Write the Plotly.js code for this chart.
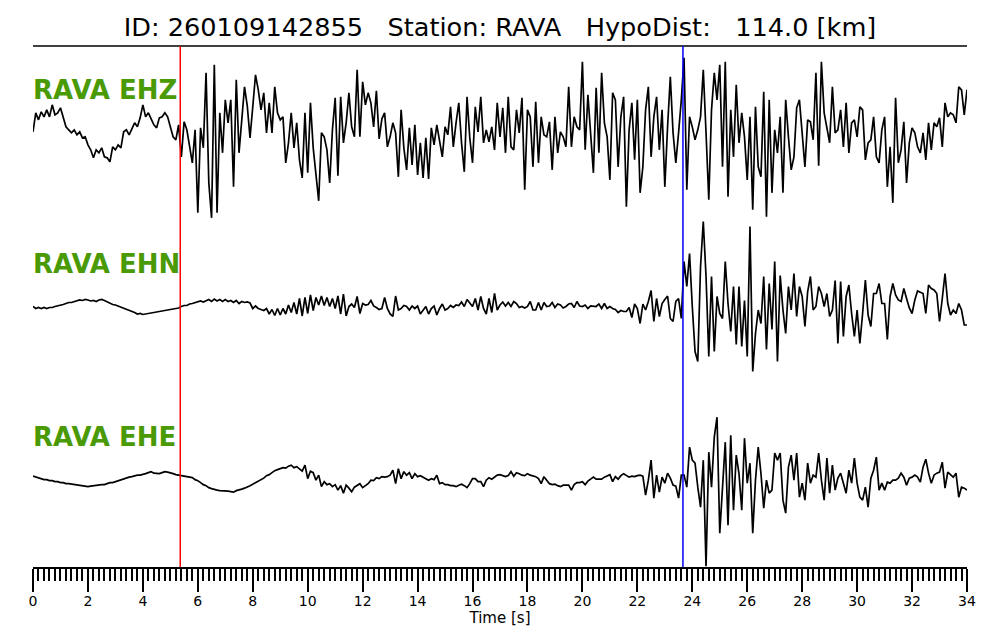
<!DOCTYPE html>
<html>
<head>
<meta charset="utf-8">
<script src="https://cdn.plot.ly/plotly-3.0.1.min.js"></script>
<style>html,body{margin:0;padding:0;background:#fff;}</style>
</head>
<body>
<div id="chart" style="width:1000px;height:640px;"></div>
<script>
// ---- data ----
const eventId = "260109142855";
const station = "RAVA";
const hypoDistKm = 114.0;
const channels = ["EHZ", "EHN", "EHE"];
const startTime = 0;          // s
const sampleInterval = 0.1;   // s
const pickTimes = [5.36, 23.66];
const pickColors = ["#ff0000", "#0000ff"];
const tickLabels = ["0","2","4","6","8","10","12","14","16","18","20","22","24","26","28","30","32","34"];

const ehz = [
1,20,13,21,16,23,16,28,18,20,
25,16,6,3,0,3,-2,1,-5,-4,
-12,-17,-25,-17,-20,-15,-24,-25,-29,-14,
-17,-12,-15,1,3,-2,5,10,6,15,
28,16,20,13,8,5,15,16,20,16,
5,-4,-7,8,-24,11,3,-14,-30,3,
-80,5,-15,60,-50,-85,68,-80,20,-20,
33,10,33,-54,53,-20,18,46,27,-5,
26,58,43,23,40,0,30,0,46,20,
13,16,-30,-10,20,-15,10,-27,-45,20,
-40,30,-15,-40,-68,0,-4,-17,-50,3,
35,-43,36,-10,10,40,6,-4,63,-4,
51,28,40,30,6,42,-6,14,20,-14,
-4,10,0,-44,23,-15,-37,5,-32,8,
-42,-10,-45,-5,-46,5,-12,8,-8,-24,
6,-2,26,-14,10,30,-10,-39,36,-5,
-30,26,1,36,-10,3,-9,6,-17,30,
-4,25,-20,36,-14,-17,23,0,35,-57,
23,16,-34,31,-30,16,-2,-4,11,-37,
16,-20,1,-4,-14,46,-14,16,6,3,
71,-17,38,-7,-40,45,-20,60,10,-4,
-47,40,33,-34,16,36,-74,3,30,-27,
33,-60,-34,23,46,-24,16,36,-17,23,
-54,6,56,0,-30,0,33,75,-57,16,
6,-7,3,16,63,0,-67,23,60,33,
68,-34,71,-64,23,-24,48,-10,20,-4,
-47,16,-77,26,-34,-44,41,-84,33,-60,
3,-20,16,-60,33,-4,-37,-24,25,33,
3,-34,13,11,-7,60,-33,71,20,6,
-10,46,0,3,23,-14,30,-20,10,13,
-4,26,23,-27,-10,-7,16,-24,-30,3,
16,-54,-14,-70,35,-30,-17,11,-50,-10,
5,0,-14,-20,0,-27,10,-17,10,6,
15,-14,30,16,20,18,10,46,43,18,
43
];

const ehn = [
0,-2,-1,-2,-1,-2,-1,-1,0,0.5,
1,2,3,4,4,5,6,6.5,6,7,
6.5,5.5,6,5,6.5,7,6,4.5,3,2,
1.5,0.5,-1,-1.5,-3,-4,-5,-6,-7.5,-7,
-8,-7.5,-7,-6.5,-6,-5.5,-5,-4.5,-4,-3.5,
-3,-2.5,-2,-1.5,0,1,1,2.5,3,4,
4.5,5.5,4.5,6,7,5,7.5,5.5,7,5,
7,5,6,4,6,3,5,4,4.5,3.5,
-2,0.5,-2,-3,-4,-2,-7.5,-3,-9,-2,
-8.5,-2,-7.5,1.5,-6,4,-7.5,8,-9.5,9,
-7,11.5,-4,9,1.5,10.5,1,9,0,8,
-2,10.5,-7.5,12.5,-9.5,0,2.5,-1,10,-7,
3,1.5,2,6,0.5,-1,-3,-2,9,-2,
-7.5,-10,10.5,-3.5,-2,1,0,-3.5,0.5,-2,
0.5,-7.5,-4,0,-7.5,-2,0.5,-8.5,-2,2.5,
-3.5,-2,1,-1,1.5,1,4.5,0,7,3,
0,8,-3.5,10,-2,-7.5,8,-6,13,-3.5,
1.5,4.5,0.5,4,0,5,3,-1,0,-1.5,
0,5,-3.5,-3.5,4,-3.5,4,0,0.5,4,
-1,2.5,1.5,-1.5,0,2.5,3,-1,5,0.5,
0,1.5,-2,0.5,0,0,2.5,-2,3,-2,
0,-2,-3,-6,-4,-5,-5,-1,-11,2.5,
-2,-17,2.5,-3.5,5,16,-15,8,-10,3,
7,10.5,-12,-15,5,8,-12,45,20,53,
0,-45,-55,40,85,30,-50,30,-45,10,
-7,-12,45,3,-25,20,-38,20,-40,6,
-50,80,-65,-27,-3.5,-17,30,-43,23,-23,
45,-55,31,-3.5,-27,20,-3.5,33,-10,20,
10,-20,15,30,-3.5,0,20,13,0,13,
-10,-3.5,26,-37,25,-30,10,21.5,-7,-30,
-3.5,-37,-7,26.5,-8.5,-20,13,13,23,3,
3,-33,10,23,11.5,6.5,5,18,8,-1.5,
-7,6.5,15.5,14,13,-7,21.5,18,16.5,13,
-15,8,33,3,-8.5,-3.5,-7,3,-3.5,-18.5,
-18.5
];

const ehe = [
4,3,2,1.5,0.5,0.5,-0.5,-0.5,-1.5,-1.5,
-2.5,-2.5,-3.5,-3.5,-4,-4.5,-5,-5.5,-5.5,-6.5,
-6.5,-6,-5.5,-5.5,-5,-4.5,-4.5,-3.5,-2.5,-2.5,
-1.5,-0.5,0.5,1.5,2.5,3,3.5,4.5,5,5,
5.5,6.5,7.5,8.5,7,6.5,6.5,7.5,8.5,8,
7.5,6.5,5.5,5,5,4.5,3.5,3.5,2.5,0.5,
-0.5,-2.5,-4.5,-5.5,-7.5,-8.5,-9.5,-10,-10.5,-10.5,
-11,-11,-11.5,-12,-10.5,-10,-9,-8,-7,-5.5,
-4,-2.5,-0.5,0.5,2,4.5,5.5,7.5,9.5,10.5,
11.5,12.5,12,14,15,12.5,13.5,11,9,15,
1.5,9,7.5,0,5,-6.5,-1.5,-4.5,-3.5,-6.5,
-4.5,-10,-5.5,-13,-5,-8,-11.5,-7,-5.5,-3.5,
-7.5,-5.5,-3.5,0,-0.5,2.5,1.5,3.5,3,3.5,
5,10,-3.5,11.5,1.5,8.5,5,7.5,1.5,6.5,
3.5,4.5,3,1.5,0,1.5,0.5,5,-3.5,-2.5,
-4.5,-4.5,-5.5,-5.5,-6.5,-5,-4,-5.5,-7.5,-3.5,
1.5,1.5,-1.5,-1.5,-6.5,0,2.5,1,3.5,5,
5.5,4.5,3.5,4.5,8.5,4,7.5,6.5,5,4.5,
6.5,5,4.5,3.5,1.5,-3.5,3.5,0,-3.5,-4.5,
-4,-5.5,-6.5,-5,-5,-5,-10,-4.5,-2.5,-2.5,
-1.5,-4.5,-1,1,3,1,1,1,3,4.5,
5.5,-1.5,3.5,1,4.5,6.5,4.5,3,4,3.5,
4.5,5,4,-15,0,20,-18,5,-12,3,
-3,7,2,-5,-6,-18,5,5,-7,33,
20,17,-7,-27,20,-86,28,-7,43,63,
-53,-3,38,-45,45,-30,25,6.5,-30,42,
-3,17,-53,0,33,6.5,-28,0,-13,-10,
27,20,27,-20,-33,13,25,0,27,-17,
-3,-20,17,-3,5,3,27,0,-20,22,
-13,15,-10,2,7,-3,-13,10,-3,22,
-3,-17,-20,-7,-27,2,10,23,-10,-3,
-10,-2,-3,0,0,2,7,3,-5,2,
3,5,3,-2,13,21,7,-3,5,7,
8,18,-8,8,5,3,7,-17,-7,-8,
-10
];

// ---- build chart ----
const seriesList = [ehz, ehn, ehe];
const yAxisIds = ["y", "y2", "y3"];
const NB = "\u00a0";
const gap = NB + NB + NB;

const traces = seriesList.map((vals, k) => ({
  type: "scatter",
  mode: "lines",
  x: vals.map((_, i) => +(startTime + i * sampleInterval).toFixed(3)),
  y: vals,
  xaxis: "x",
  yaxis: yAxisIds[k],
  line: { color: "#000000", width: 1.7 },
  hoverinfo: "skip"
}));

const half = 86.83;
const yBase = {
  range: [-half, half], visible: false, showgrid: false, zeroline: false,
  fixedrange: true, anchor: "x"
};

const shapes = [
  { type: "line", xref: "paper", yref: "paper", x0: 0, x1: 1, y0: 1, y1: 1,
    line: { color: "#000000", width: 1.5 } }
].concat(pickTimes.map((t, k) => ({
  type: "line", xref: "x", yref: "paper", x0: t, x1: t, y0: 0, y1: 1,
  line: { color: pickColors[k], width: 1.5 }
})));

const annotations = channels.map((ch, k) => ({
  xref: "paper", x: 0, xanchor: "left", xshift: -2,
  yref: yAxisIds[k] + " domain", y: 0.747, yanchor: "middle",
  text: "<b>" + station + " " + ch + "</b>",
  showarrow: false,
  font: { family: "DejaVu Sans", size: 26, color: "#4a9a06" }
}));

const layout = {
  width: 1000, height: 640,
  margin: { l: 33, r: 33, t: 46, b: 73 },
  paper_bgcolor: "#ffffff", plot_bgcolor: "#ffffff",
  showlegend: false,
  title: {
    text: "ID: " + eventId + gap + "Station: " + station + gap + "HypoDist:" + gap + hypoDistKm.toFixed(1) + " [km]",
    font: { family: "DejaVu Sans", size: 25.6, color: "#000000" },
    x: 0.5, xanchor: "center", xref: "container",
    y: 1 - 27 / 640, yanchor: "middle", yref: "container"
  },
  xaxis: {
    range: [0, 34], anchor: "y3",
    showline: true, linewidth: 2, linecolor: "#000000",
    ticks: "outside", ticklen: 23, tickwidth: 2, tickcolor: "#000000",
    tickmode: "array",
    tickvals: tickLabels.map(Number), ticktext: tickLabels,
    tickfont: { family: "DejaVu Sans", size: 14, color: "#000000" },
    ticklabelstandoff: -3,
    showgrid: false, zeroline: false, fixedrange: true,
    minor: { ticks: "outside", ticklen: 12, tickwidth: 2, tickcolor: "#000000",
             dtick: 0.2, tick0: 0, showgrid: false },
    title: { text: "Time [s]", font: { family: "DejaVu Sans", size: 15, color: "#000000" }, standoff: 0 }
  },
  yaxis: Object.assign({}, yBase, { domain: [2 / 3, 1] }),
  yaxis2: Object.assign({}, yBase, { domain: [1 / 3, 2 / 3] }),
  yaxis3: Object.assign({}, yBase, { domain: [0, 1 / 3] }),
  shapes: shapes,
  annotations: annotations
};

Plotly.newPlot("chart", traces, layout, { staticPlot: true, displayModeBar: false });
</script>
</body>
</html>
